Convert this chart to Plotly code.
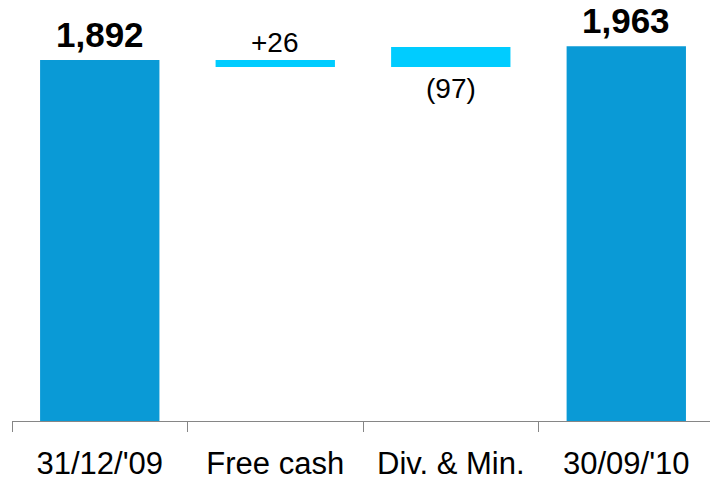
import plotly.graph_objects as go

categories = ["31/12/'09", "Free cash", "Div. & Min.", "30/09/'10"]
bar_base = [0, 1855, 1855, 0]
bar_top = [1892, 1892, 1960, 1963]
label_text = ["1,892", "+26", "(97)", "1,963"]
label_bold = [True, False, False, True]
label_above = [True, True, False, True]
bar_colors = ["#0A9AD6", "#00CCFF", "#00CCFF", "#0A9AD6"]

FONT = "Liberation Sans, Arial, sans-serif"

fig = go.Figure()
fig.add_trace(go.Bar(
    x=categories,
    y=[t - b for t, b in zip(bar_top, bar_base)],
    base=bar_base,
    marker=dict(color=bar_colors, line=dict(width=0)),
    width=0.68,
    hoverinfo="skip",
))

for cat, b, t, txt, bold, above in zip(categories, bar_base, bar_top, label_text, label_bold, label_above):
    fig.add_annotation(
        x=cat,
        y=t if above else b,
        text=f"<b>{txt}</b>" if bold else txt,
        showarrow=False,
        xanchor="center",
        yanchor="bottom" if above else "top",
        yshift=(4 if bold else 0) if above else -4,
        font=dict(family=FONT, size=35 if bold else 28, color="black"),
    )

fig.update_layout(
    width=710, height=481,
    margin=dict(l=12, r=0, t=0, b=60),
    paper_bgcolor="white", plot_bgcolor="white",
    showlegend=False,
    font=dict(family=FONT, color="black"),
)
fig.update_xaxes(
    type="category",
    range=[-0.5, 3.477],
    automargin=False,
    showline=True, linecolor="#868686", linewidth=1,
    ticks="outside", tickson="boundaries", ticklen=10, tickcolor="#868686", tickwidth=1,
    showgrid=False, zeroline=False,
    tickfont=dict(family=FONT, size=31, color="black"),
    ticklabelstandoff=15,
)
fig.update_yaxes(range=[0, 2206], visible=False, showgrid=False, zeroline=False, automargin=False)

fig.write_html(
    "out.html",
    config={"displayModeBar": False},
    post_script="document.body.style.margin='0';document.body.style.overflow='hidden';",
)
